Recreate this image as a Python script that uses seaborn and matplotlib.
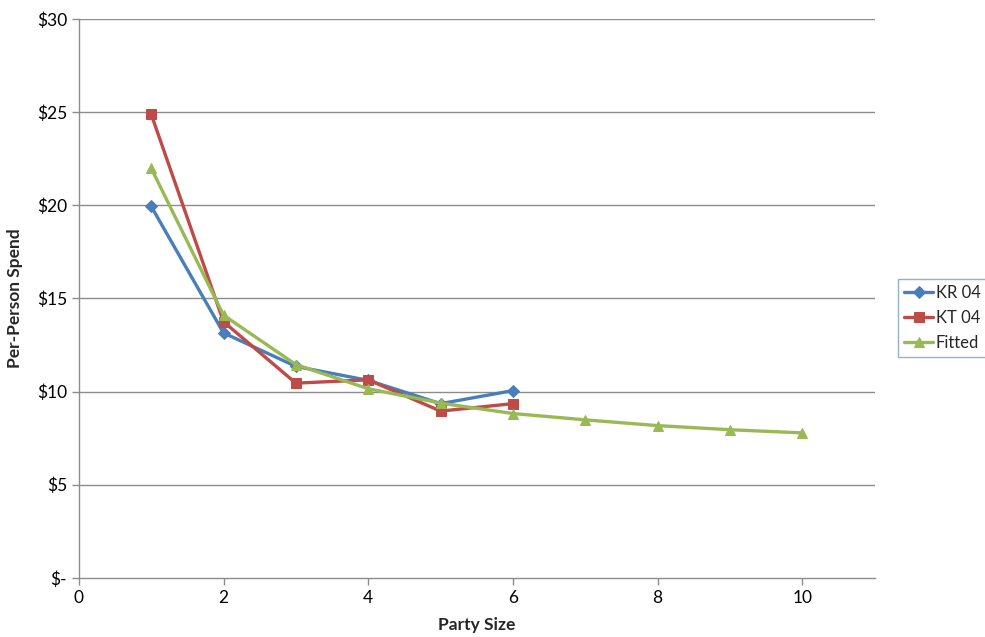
import matplotlib
matplotlib.use("Agg")
import matplotlib.pyplot as plt
import seaborn as sns
import pandas as pd
from matplotlib.ticker import FuncFormatter, MultipleLocator

# values
kr_size = [1, 2, 3, 4, 5, 6]
kr_spend = [19.95, 13.15, 11.35, 10.6, 9.35, 10.05]

kt_size = [1, 2, 3, 4, 5, 6]
kt_spend = [24.9, 13.75, 10.45, 10.63, 8.95, 9.35]

fit_size = [1, 2, 3, 4, 5, 6, 7, 8, 9, 10]
fit_spend = [22.0, 14.1, 11.45, 10.15, 9.38, 8.82, 8.48, 8.17, 7.95, 7.78]

series = [
    ("KR 04", kr_size, kr_spend, "#4A7EBB", "D", 6),
    ("KT 04", kt_size, kt_spend, "#BE4B48", "s", 7),
    ("Fitted", fit_size, fit_spend, "#98B954", "^", 7.5),
]

sns.set_style("white")
plt.rcParams["font.family"] = ["Lato", "DejaVu Sans"]

fig = plt.figure(figsize=(9.85, 6.37), dpi=100)
ax = fig.add_axes([0.080, 0.093, 0.808, 0.877])

grid_c = "#8c8c8c"
for name, xs, ys, color, marker, ms in series:
    df = pd.DataFrame({"size": xs, "spend": ys})
    sns.lineplot(data=df, x="size", y="spend", ax=ax, color=color, marker=marker,
                 markersize=ms, markeredgecolor=color, linewidth=2.4, label=name)

ax.set_xlim(0, 11)
ax.set_ylim(0, 30)
ax.xaxis.set_major_locator(MultipleLocator(2))
ax.yaxis.set_major_locator(MultipleLocator(5))
ax.yaxis.set_major_formatter(FuncFormatter(lambda v, p: "$-" if v == 0 else f"${v:.0f}"))
ax.xaxis.set_major_formatter(FuncFormatter(lambda v, p: f"{v:.0f}" if v <= 10 else ""))

for yv in range(5, 31, 5):
    ax.axhline(yv, color=grid_c, linewidth=1, zorder=0)

for side in ("top", "right"):
    ax.spines[side].set_visible(False)
for side in ("left", "bottom"):
    ax.spines[side].set_color(grid_c)
    ax.spines[side].set_linewidth(1)

ax.tick_params(axis="both", direction="out", length=5, width=1, color=grid_c,
               labelsize=12.5, labelcolor="black", bottom=True, left=True)
ax.set_xlabel("Party Size", fontsize=12.5, fontweight="bold", labelpad=8)
ax.set_ylabel("Per-Person Spend", fontsize=12.5, fontweight="bold", labelpad=10)

leg = ax.legend(loc="upper left", bbox_to_anchor=(0.912, 0.562), bbox_transform=fig.transFigure,
                frameon=True, fancybox=False, fontsize=12, handlelength=1.75,
                handletextpad=0.15, borderpad=0.35, labelspacing=0.55, borderaxespad=0)
leg.get_frame().set_edgecolor("#7f9cc0")
leg.get_frame().set_linewidth(1)

fig.savefig("out.png", dpi=100)
